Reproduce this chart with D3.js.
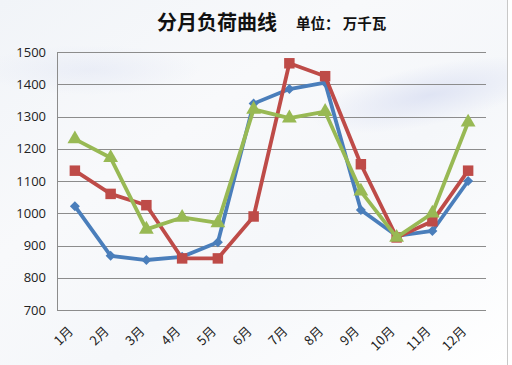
<!DOCTYPE html>
<html>
<head>
<meta charset="utf-8">
<style>
  *{margin:0;padding:0;box-sizing:border-box}
  body{width:512px;height:365px;overflow:hidden;background:#fff}
  svg{display:block}
</style>
</head>
<body>
<svg id="g"></svg>
<script src="https://cdn.jsdelivr.net/npm/d3@7/dist/d3.min.js"></script>
<script>
// data
const months=['1月','2月','3月','4月','5月','6月','7月','8月','9月','10月','11月','12月'];
const blueVals=[1022,868,855,865,910,1340,1385,1405,1010,930,945,1100];
const redVals=[1132,1060,1025,860,860,990,1465,1425,1152,925,975,1132];
const greenVals=[1230,1172,950,987,970,1322,1295,1315,1068,925,1000,1282];
const yTicks=[700,800,900,1000,1100,1200,1300,1400,1500];

const W=512,H=365;
const M={l:57,r:26,t:52,b:55};
const svg=d3.select('#g').attr('width',W).attr('height',H);
const defs=svg.append('defs');

// soft background
const bg=defs.append('linearGradient').attr('id','bg').attr('x1',0).attr('y1',0).attr('x2',1).attr('y2',1);
bg.append('stop').attr('offset','0%').attr('stop-color','#f1f4f8');
bg.append('stop').attr('offset','35%').attr('stop-color','#f8f9fb');
bg.append('stop').attr('offset','60%').attr('stop-color','#f5f7fa');
bg.append('stop').attr('offset','100%').attr('stop-color','#ffffff');
svg.append('rect').attr('width',W).attr('height',H).attr('fill','url(#bg)');
const sw=defs.append('radialGradient').attr('id','sw');
sw.append('stop').attr('offset','0%').attr('stop-color','#dde2f3').attr('stop-opacity',0.9);
sw.append('stop').attr('offset','100%').attr('stop-color','#dde2f3').attr('stop-opacity',0);
svg.append('ellipse').attr('cx',430).attr('cy',95).attr('rx',120).attr('ry',30)
  .attr('fill','url(#sw)').attr('transform','rotate(-12,430,95)');
svg.append('ellipse').attr('cx',90).attr('cy',70).attr('rx',110).attr('ry',25)
  .attr('fill','url(#sw)').attr('opacity',0.5);
svg.append('rect').attr('x',507).attr('y',0).attr('width',5).attr('height',H).attr('fill','#ffffff');
svg.append('line').attr('x1',507.5).attr('x2',507.5).attr('y1',0).attr('y2',H).attr('stroke','#c8c8c8');

const x=d3.scaleBand().domain(months).range([M.l,W-M.r]);
const y=d3.scaleLinear().domain([700,1500]).range([H-M.b,M.t]);

// title
svg.append('text').attr('x',157).attr('y',30)
  .attr('font-family','"Noto Sans CJK SC"').attr('font-weight','bold').attr('font-size',20)
  .attr('fill','#111').text('分月负荷曲线');
svg.append('text').attr('x',296).attr('y',29)
  .attr('font-family','"Noto Sans CJK SC"').attr('font-weight','bold').attr('font-size',14.5)
  .attr('fill','#111').text('单位： 万千瓦');

// gridlines
svg.append('g').selectAll('line').data(yTicks).join('line')
  .attr('x1',M.l).attr('x2',W-M.r)
  .attr('y1',d=>Math.round(y(d))+0.5).attr('y2',d=>Math.round(y(d))+0.5)
  .attr('stroke','#8c8c8c').attr('stroke-width',1);
svg.append('line').attr('x1',M.l+0.5).attr('x2',M.l+0.5)
  .attr('y1',y(1500)).attr('y2',y(700)).attr('stroke','#8c8c8c');

// y labels
svg.append('g').selectAll('text').data(yTicks).join('text')
  .attr('x',M.l-11).attr('y',d=>y(d)+4.5).attr('text-anchor','end')
  .attr('font-family','"Open Sans"').attr('font-size',13).attr('fill','#222')
  .text(d=>d);

// x labels
svg.append('g').selectAll('text').data(months).join('text')
  .attr('text-anchor','end')
  .attr('transform',d=>`translate(${x(d)+x.bandwidth()/2-1},${y(700)+22}) rotate(-45)`)
  .attr('font-family','"Noto Sans CJK SC"').attr('font-size',13).attr('fill','#222')
  .text(d=>d);

const cx=d=>x(d)+x.bandwidth()/2;
const line=d3.line().x(d=>cx(d[0])).y(d=>y(d[1]));
const series=[
  {vals:blueVals,color:'#4a7ebb',shape:d3.symbolSquare,size:50,rot:45},
  {vals:redVals,color:'#be4b48',shape:d3.symbolSquare,size:110,rot:0},
  {vals:greenVals,color:'#98b954',shape:d3.symbolTriangle,size:95,rot:0}
];
series.forEach(s=>{
  const pts=months.map((m,i)=>[m,s.vals[i]]);
  svg.append('path').datum(pts).attr('d',line).attr('fill','none')
    .attr('stroke',s.color).attr('stroke-width',3.8).attr('stroke-linejoin','round');
  svg.append('g').selectAll('path').data(pts).join('path')
    .attr('d',d3.symbol().type(s.shape).size(s.size))
    .attr('transform',d=>`translate(${cx(d[0])},${y(d[1])}) rotate(${s.rot})`)
    .attr('fill',s.color);
});
</script>
</body>
</html>
